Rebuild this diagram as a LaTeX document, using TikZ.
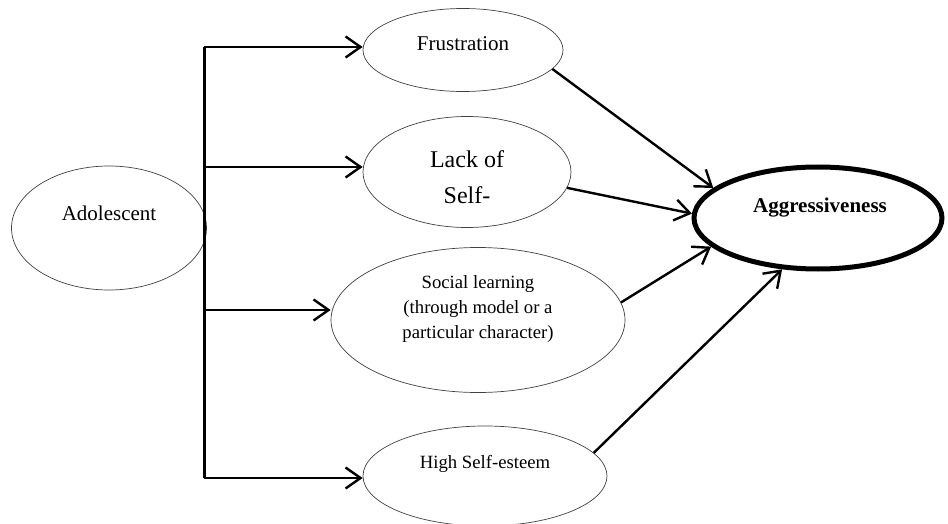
\documentclass[tikz,border=0pt]{standalone}
\usepackage{fontspec}
\setmainfont{Liberation Serif}
\usetikzlibrary{shapes.geometric,arrows.meta}
\begin{document}
\begin{tikzpicture}[x=1pt,y=-1pt,
  oval/.style={ellipse,draw=black!75,line width=0.7pt,inner sep=0pt},
  lbl/.style={align=center,inner sep=0pt},
  conn/.style={line width=2.4pt,-{Straight Barb[length=15pt,width=21pt]}},
  barline/.style={line width=3pt},
]
\useasboundingbox (0,0) rectangle (948,524);
% ellipses
\node[oval,minimum width=195,minimum height=124] (adol) at (109,228) {};
\node[oval,minimum width=200,minimum height=83] (frus) at (463,50) {};
\node[oval,minimum width=208,minimum height=111] (lack) at (467,172) {};
\node[oval,minimum width=294,minimum height=145] (soc) at (478,320) {};
\node[oval,minimum width=244,minimum height=100] (high) at (485,476) {};
\node[ellipse,draw=black,line width=5pt,inner sep=0pt,minimum width=248,minimum height=102] (aggr) at (818,218) {};
% labels
\node[lbl,font=\fontsize{21}{25}\selectfont] (tadol) at (109,213) {Adolescent};
\node[lbl,font=\fontsize{21}{25}\selectfont] (tfrus) at (463,44) {Frustration};
\node[lbl,font=\fontsize{24}{36}\selectfont] (tlack) at (467,177) {Lack of\\Self-};
\node[lbl,font=\fontsize{18.7}{25}\selectfont] (tsoc) at (478,309) {Social learning\\(through model or a\\particular character)};
\node[lbl,font=\fontsize{18.7}{25}\selectfont] (thigh) at (485,464) {High Self-esteem};
\node[lbl,font=\fontsize{21}{25}\selectfont\bfseries] (taggr) at (820,208) {Aggressiveness};
% trunk
\coordinate (t1) at (204,47);
\coordinate (t2) at (204,167);
\coordinate (t3) at (204,310);
\coordinate (t4) at (204,478);
\draw[barline] (t1) -- (t4);
\draw[conn] (t1) -- (t1 -| frus.west);
\draw[conn] (t2) -- (t2 -| lack.west);
\draw[conn] (t3) -- (t3 -| soc.west);
\draw[conn] (t4) -- (t4 -| high.west);
% to aggressiveness
\draw[conn] (frus.-12) -- (aggr.164);
\draw[conn] (lack.-9) -- (aggr.178.6);
\draw[conn] (soc.7.4) -- (aggr.195.7);
\draw[conn] (high.12.3) -- (aggr.235.4);
\end{tikzpicture}
\end{document}
